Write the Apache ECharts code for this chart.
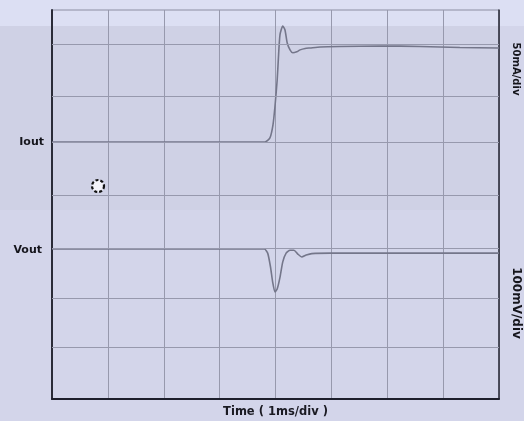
<!DOCTYPE html>
<html><head><meta charset="utf-8">
<script src="https://cdn.jsdelivr.net/npm/echarts@6/dist/echarts.min.js"></script>
<style>html,body{margin:0;padding:0;background:#d3d5ea}#c{width:524px;height:421px}</style>
</head><body><div id="c"></div>
<script>
// time in ms (1 ms/div), amplitude in screen divisions
const timeTicks = [0,1,2,3,4,5,6,7,8];
const hGridDivs = [1.07, 2.08, 3.09, 4.18, 5.29, 6.23, 7.30];
const ioutT = [0,1.75,3.81,3.90,3.955,3.99,4.03,4.05,4.08,4.13,4.17,4.21,4.26,4.31,4.38,4.44,4.53,4.62,4.80,5.15,5.87,6.59,7.30,8.0];
const ioutV = [5.285,5.285,5.285,5.37,5.64,6.01,6.56,6.97,7.49,7.67,7.59,7.32,7.18,7.12,7.14,7.18,7.21,7.22,7.24,7.25,7.26,7.25,7.23,7.22];
const voutT = [0,3.80,3.86,3.91,3.95,3.99,4.03,4.08,4.13,4.19,4.26,4.33,4.40,4.47,4.55,4.65,4.98,6.23,8.0];
const voutV = [3.085,3.085,3.00,2.72,2.40,2.20,2.26,2.50,2.82,3.00,3.06,3.06,2.98,2.92,2.96,2.99,3.00,3.00,3.00];
const traceLabels = ['Iout','Vout'];
const scaleLabels = ['50mA/div','100mV/div'];
const xTitle = 'Time ( 1ms/div )';

const chart = echarts.init(document.getElementById('c'));
const pair = (t,v) => t.map((x,i)=>[x,v[i]]);
const font = 'DejaVu Sans';
chart.setOption({
  animation:false,
  backgroundColor:'#d3d5ea',
  grid:{left:52,right:25,top:10,bottom:22,show:true,borderColor:'#8c8ea2',borderWidth:1,
    containLabel:false,outerBoundsMode:'none'},
  xAxis:{type:'value',min:0,max:8,interval:1,
    axisLine:{show:true,onZero:false,lineStyle:{color:'#1e1f2c',width:2}},
    axisTick:{show:false},axisLabel:{show:false},
    splitLine:{show:true,lineStyle:{color:'#9799ad',width:1}},
    name:xTitle,nameLocation:'middle',nameGap:7,
    nameTextStyle:{fontFamily:font,fontWeight:'bold',fontSize:11.5,color:'#1a1a22'}},
  yAxis:[{type:'value',min:0,max:8,
    axisLine:{show:true,lineStyle:{color:'#2a2b38',width:2}},
    axisTick:{show:false},axisLabel:{show:false},splitLine:{show:false}},
    {type:'value',min:0,max:8,position:'right',
    axisLine:{show:true,lineStyle:{color:'#2a2b38',width:1.5}},
    axisTick:{show:false},axisLabel:{show:false},splitLine:{show:false}}],
  graphic:[
    {type:'rect',z:-10,silent:true,shape:{x:0,y:0,width:524,height:26},style:{fill:'#dcdff3'}},
    {type:'rect',z:-10,silent:true,shape:{x:0,y:26,width:500,height:184},style:{fill:'#cfd1e5'}},
    {type:'text',x:44,y:142,style:{text:traceLabels[0],font:'bold 11px '+font,fill:'#15151c',align:'right',verticalAlign:'middle'}},
    {type:'text',x:42,y:250,style:{text:traceLabels[1],font:'bold 11px '+font,fill:'#15151c',align:'right',verticalAlign:'middle'}},
    {type:'text',x:516,y:69,rotation:-Math.PI/2,style:{text:scaleLabels[0],font:'bold 10px '+font,fill:'#15151c',align:'center',verticalAlign:'middle'}},
    {type:'text',x:516,y:303,rotation:-Math.PI/2,style:{text:scaleLabels[1],font:'bold 12px '+font,fill:'#15151c',align:'center',verticalAlign:'middle'}},
    {type:'circle',shape:{cx:98,cy:186,r:6},style:{fill:'#f4f4fa',stroke:'#111',lineWidth:2.2,lineDash:[3,2]}}
  ],
  series:[
    {type:'line',data:[],markLine:{silent:true,symbol:'none',label:{show:false},
      lineStyle:{color:'#9799ad',width:1,type:'solid'},
      data:hGridDivs.map(v=>({yAxis:v}))}},
    {name:traceLabels[0],type:'line',data:pair(ioutT,ioutV),showSymbol:false,smooth:0.2,
      lineStyle:{color:'#74768a',width:1.6}},
    {name:traceLabels[1],type:'line',data:pair(voutT,voutV),showSymbol:false,smooth:0.2,
      lineStyle:{color:'#74768a',width:1.6}}
  ]
});
</script></body></html>
